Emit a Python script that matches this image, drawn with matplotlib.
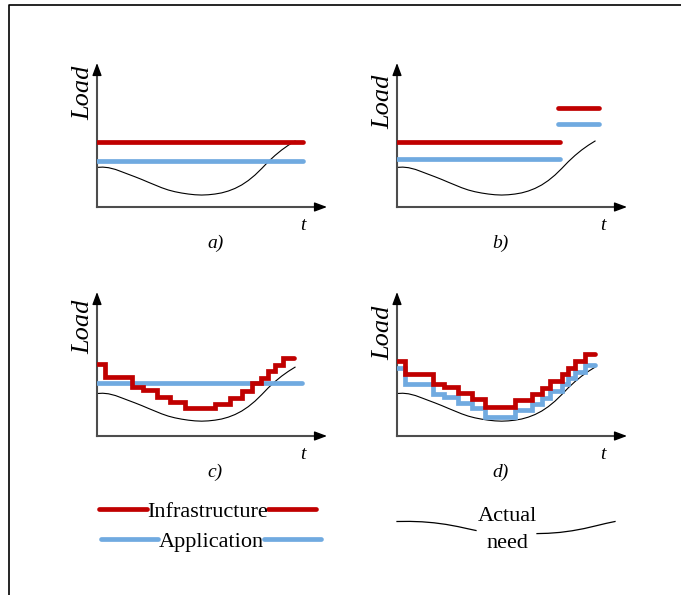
import matplotlib
matplotlib.use("Agg")
from matplotlib import pyplot as plt

# Actual need (thin black curve)
need_t = [0, 0.25, 0.5, 0.8, 1.07, 1.35, 1.65, 1.95, 2.23, 2.52, 2.81, 3.1, 3.39, 3.68, 3.97,
          4.26, 4.55, 4.84, 5.13, 5.42, 5.71, 6.0, 6.29, 6.58, 6.87, 7.16, 7.45, 7.74, 8.03,
          8.32, 8.61]
need_load = [2.75, 2.77, 2.73, 2.61, 2.45, 2.28, 2.10, 1.91, 1.72, 1.53, 1.34, 1.18, 1.06, 0.97,
             0.90, 0.85, 0.83, 0.85, 0.90, 0.98, 1.11, 1.29, 1.53, 1.84, 2.22, 2.67, 3.15, 3.58,
             3.96, 4.29, 4.58]

# a) static provisioning
a_infra = 4.51
a_app = 3.2
a_end = 8.96

# b) one manual resize
b_infra = [4.51, 6.88]
b_app = [3.33, 5.76]
b_start = [0, 7.0]
b_end = [7.09, 8.78]

# c) elastic infrastructure, static application
c_edges = [0, 0.35, 1.51, 2.01, 2.59, 3.17, 3.83, 5.13, 5.78, 6.29, 6.74, 7.13, 7.43, 7.74, 8.09, 8.57]
c_infra = [4.80, 3.92, 3.22, 2.99, 2.53, 2.18, 1.72, 2.02, 2.46, 2.93, 3.48, 3.83, 4.31, 4.73, 5.24]
c_app = 3.46
c_app_end = 8.9

# d) elastic infrastructure and application
d_edges = [0, 0.35, 1.55, 2.04, 2.67, 3.25, 3.83, 5.13, 5.86, 6.29, 6.65, 7.16, 7.45, 7.74, 8.17, 8.61]
d_infra = [5.01, 4.08, 3.41, 3.18, 2.77, 2.37, 1.83, 2.30, 2.70, 3.15, 3.64, 4.08, 4.54, 5.01, 5.47]
d_app = [4.50, 3.39, 2.72, 2.49, 2.07, 1.72, 1.14, 1.61, 2.00, 2.46, 2.95, 3.39, 3.85, 4.27, 4.73]

RED = '#C00000'
BLUE = '#70AAE0'
LW = 3.4
W, H = 681, 595
SERIF = 'Liberation Serif'

fig = plt.figure(figsize=(W / 100, H / 100), dpi=100)

# overlay in pixel units for the frame and the legend
over = fig.add_axes([0, 0, 1, 1])
over.set_xlim(0, W)
over.set_ylim(H, 0)
over.axis('off')


def panel(x0, y0, ymin, load_y, label, label_x, bottom_offset):
    """ Одна панель: оси со стрелками, подписи """
    ax = fig.add_axes([x0 / W, (H - y0) / H, 230 / W, 144 / H])
    ax.set_xlim(0, 10)
    ax.set_ylim(ymin, ymin + 10)
    ax.axis('off')
    # оси
    ax.plot([0, 0], [0, 0.96], color='#4d4d4d', lw=1.5, transform=ax.transAxes, clip_on=False)
    ax.plot([0, 0.97], [0, 0], color='#4d4d4d', lw=1.5, transform=ax.transAxes, clip_on=False)
    head = dict(arrowstyle='-|>,head_length=0.75,head_width=0.28', color='k', lw=1,
                shrinkA=0, shrinkB=0, mutation_scale=10)
    ax.annotate('', xy=(0, 1), xytext=(0, 0.93), xycoords='axes fraction', arrowprops=head)
    ax.annotate('', xy=(1, 0), xytext=(0.95, 0), xycoords='axes fraction', arrowprops=head)
    ax.text(-0.061, load_y, 'Load', rotation=90, ha='center', va='center',
            family=SERIF, style='italic', fontsize=19, transform=ax.transAxes)
    ax.text(0.896, -0.125 - bottom_offset, 't', ha='center', va='center',
            family=SERIF, style='italic', fontsize=14, transform=ax.transAxes)
    ax.text(label_x, -0.25 - bottom_offset, label, ha='center', va='center',
            family=SERIF, style='italic', fontsize=14, transform=ax.transAxes)
    ax.plot(need_t, need_load, color='k', lw=0.8, zorder=1)
    return ax


ax_a = panel(97, 207, 0, 0.79, 'a)', 0.517, 0)
ax_a.plot([0, a_end], [a_infra, a_infra], color=RED, lw=LW, solid_capstyle='round')
ax_a.plot([0, a_end], [a_app, a_app], color=BLUE, lw=LW, solid_capstyle='round')

ax_b = panel(397, 207, 0, 0.73, 'b)', 0.448, 0)
for s, e, r, b in zip(b_start, b_end, b_infra, b_app):
    ax_b.plot([s, e], [r, r], color=RED, lw=LW, solid_capstyle='round')
    ax_b.plot([s, e], [b, b], color=BLUE, lw=LW, solid_capstyle='round')

ax_c = panel(97, 436, -0.2, 0.76, 'c)', 0.513, 0.005)
ax_c.plot([0, c_app_end], [c_app, c_app], color=BLUE, lw=LW, solid_capstyle='round')
ax_c.plot(c_edges, c_infra + [c_infra[-1]], drawstyle='steps-post', color=RED, lw=LW,
          solid_capstyle='round', solid_joinstyle='miter')

ax_d = panel(397, 436, -0.2, 0.72, 'd)', 0.448, 0.005)
ax_d.plot(d_edges, d_app + [d_app[-1]], drawstyle='steps-post', color=BLUE, lw=LW,
          solid_capstyle='round', solid_joinstyle='miter')
ax_d.plot(d_edges, d_infra + [d_infra[-1]], drawstyle='steps-post', color=RED, lw=LW,
          solid_capstyle='round', solid_joinstyle='miter')

# рамка
over.plot([9, 9, W], [H, 5, 5], color='k', lw=1.2)

# легенда
over.plot([99, 147], [509, 509], color=RED, lw=LW, solid_capstyle='round')
over.plot([268, 316], [509, 509], color=RED, lw=LW, solid_capstyle='round')
over.text(207.5, 517, 'Infrastructure', ha='center', va='baseline', family=SERIF, fontsize=16)
over.plot([101, 158], [539, 539], color=BLUE, lw=LW, solid_capstyle='round')
over.plot([264, 321], [539, 539], color=BLUE, lw=LW, solid_capstyle='round')
over.text(211, 547, 'Application', ha='center', va='baseline', family=SERIF, fontsize=16)

over.plot([397, 410, 422, 434, 446, 458, 468, 476],
          [521.5, 521.4, 521.8, 522.8, 524.4, 526.6, 528.8, 530.5], color='k', lw=0.9)
over.plot([537, 548, 560, 572, 584, 596, 606, 615],
          [533.6, 533.3, 532.4, 530.8, 528.6, 525.8, 523.4, 521.5], color='k', lw=0.9)
over.text(507, 521, 'Actual', ha='center', va='baseline', family=SERIF, fontsize=16)
over.text(507, 548, 'need', ha='center', va='baseline', family=SERIF, fontsize=16)

fig.savefig('out.png', dpi=100)
